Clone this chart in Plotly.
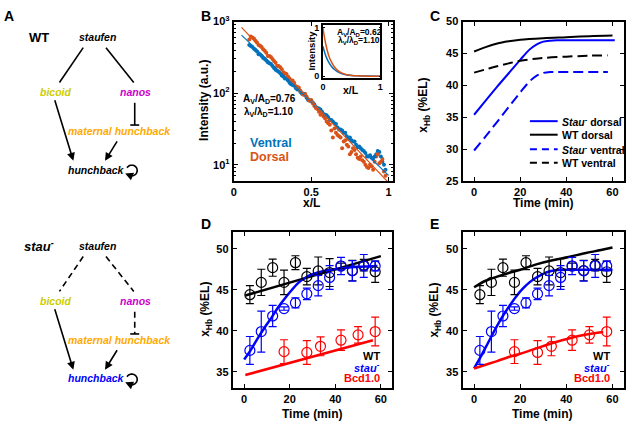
import math
import plotly.graph_objects as go

W, H = 629, 427
FONT = "Liberation Sans"

# ---------------- Panel B data ----------------
pos_x = [0.10, 0.12, 0.14, 0.16, 0.18, 0.20, 0.22, 0.24, 0.26, 0.28, 0.30, 0.32, 0.34, 0.36, 0.38,
         0.40, 0.42, 0.44, 0.46, 0.48, 0.50, 0.52, 0.54, 0.56, 0.58, 0.60, 0.62, 0.64, 0.66, 0.68,
         0.70, 0.72, 0.74, 0.76, 0.78, 0.80, 0.82, 0.84, 0.86, 0.88, 0.90, 0.92, 0.94, 0.96, 0.98]
ventral_int = [470, 440, 400, 350, 330, 300, 270, 255, 225, 205, 190, 170, 160, 140, 130,
               118, 112, 98, 94, 80, 78, 70, 62, 59, 51, 49, 42, 40, 37, 31,
               30, 28, 23, 22, 21, 17.5, 17, 15.5, 13, 13.5, 12, 14, 15, 11, 8.5]
dorsal_int = [560, 600, 540, 470, 440, 390, 330, 320, 280, 240, 230, 195, 185, 160, 150,
              125, 120, 100, 98, 82, 80, 66, 60, 50, 47, 40, 36, 24, 28, 25,
              17, 22, 18, 15, 16, 12.5, 13, 11, 9.3, 10, 8.5, 13, 10.5, 12, 7]
pos_x_b = [0.11, 0.13, 0.15, 0.17, 0.19, 0.21, 0.23, 0.25, 0.27, 0.29, 0.31, 0.33, 0.35, 0.37, 0.39,
           0.41, 0.43, 0.45, 0.47, 0.49, 0.51, 0.53, 0.55, 0.57, 0.59, 0.61, 0.63, 0.65, 0.67, 0.69,
           0.71, 0.73, 0.75, 0.77, 0.79, 0.81, 0.83, 0.85, 0.87, 0.89, 0.91, 0.93, 0.95, 0.97]
ventral_int_b = [455, 415, 380, 345, 310, 285, 262, 240, 212, 198, 176, 160, 150, 133, 127,
                 112, 104, 97, 86, 79, 74, 64, 61, 55, 50, 46, 42, 38, 33, 31,
                 28, 25, 24, 21, 19, 18, 16, 14.5, 13, 12.5, 13, 15.5, 13, 10]
dorsal_int_b = [620, 580, 510, 460, 410, 365, 330, 300, 265, 240, 215, 190, 170, 150, 140,
                122, 108, 95, 90, 78, 72, 62, 55, 52, 44, 38, 30, 32, 26, 24,
                21, 19, 14, 17, 14, 12, 11.5, 10, 9, 9.5, 11, 14, 11, 8]
fit_x = [0.05, 1.0]
ventral_fit = [645, 7.1]
dorsal_fit = [830, 5.6]

inset_x = [0, 0.05, 0.1, 0.15, 0.2, 0.25, 0.3, 0.4, 0.5, 0.6, 0.8, 1.0]
inset_dorsal = [1.0, 0.66, 0.43, 0.29, 0.19, 0.125, 0.082, 0.036, 0.016, 0.007, 0.0013, 0.0002]
inset_ventral = [0.62, 0.42, 0.29, 0.20, 0.137, 0.094, 0.064, 0.03, 0.014, 0.0066, 0.0014, 0.0003]

# ---------------- Panel C data ----------------
c_t_stau_dorsal = [0, 5, 10, 15, 20, 24, 27, 30, 33, 36, 45, 61]
c_stau_dorsal = [35.4, 37.6, 39.8, 41.9, 44.0, 45.6, 46.4, 46.85, 47.0, 47.05, 47.05, 47.05]
c_t_wt_dorsal = [0, 5, 10, 15, 20, 30, 40, 50, 60]
c_wt_dorsal = [45.3, 46.0, 46.55, 46.9, 47.15, 47.4, 47.55, 47.7, 47.8]
c_t_stau_ventral = [0, 5, 10, 15, 20, 24, 27, 30, 33, 36, 58]
c_stau_ventral = [29.8, 32.0, 34.3, 36.6, 38.9, 40.6, 41.5, 41.95, 42.1, 42.1, 42.1]
c_t_wt_ventral = [0, 5, 10, 15, 20, 25, 30, 40, 50, 58]
c_wt_ventral = [42.0, 42.5, 43.0, 43.45, 43.85, 44.1, 44.3, 44.5, 44.65, 44.7]

# ---------------- Panels D/E measured data ----------------
t_obs = [2.5, 7.5, 12.5, 17.5, 22.5, 27.5, 32.5, 37.5, 42.5, 47.5, 52.5, 57.5]
wt_mean = [44.4, 45.9, 47.7, 45.9, 48.3, 46.6, 47.3, 47.1, 47.9, 47.35, 48.0, 47.2]
wt_err = [1.1, 1.6, 1.05, 1.5, 0.85, 1.0, 1.7, 1.7, 0.35, 1.25, 0.7, 1.3]
stau_mean = [37.6, 39.9, 41.8, 42.7, 43.4, 44.5, 45.5, 46.5, 47.9, 47.3, 47.9, 47.9]
stau_err = [1.7, 2.5, 1.3, 0.2, 0.6, 0.7, 1.25, 1.45, 1.05, 1.25, 1.4, 0.6]
bcd_t = [17.5, 27.5, 33.5, 42.5, 50, 57.5]
bcd_mean = [37.45, 37.35, 38.1, 38.85, 39.5, 39.9]
bcd_err = [1.45, 1.45, 1.15, 1.25, 1.0, 1.75]

# Panel D model curves
d_t_wt = [0.5, 60]
d_wt_fit = [44.3, 49.1]
d_t_stau = [0, 3, 6, 9, 12, 15, 18, 21, 24, 27, 30, 35, 40, 45, 50, 55, 58.5]
d_stau_fit = [36.5, 37.7, 39.1, 40.4, 41.6, 42.9, 44.0, 45.0, 45.9, 46.5, 46.9, 47.3, 47.5, 47.7, 47.8, 47.85, 47.9]
d_t_bcd = [0.5, 56.5]
d_bcd_fit = [34.6, 38.85]

# Panel E model curves
e_t_wt = [0, 5, 10, 15, 20, 27, 34, 41, 48, 55, 60]
e_wt_fit = [45.3, 46.1, 46.6, 47.05, 47.45, 48.1, 48.6, 49.0, 49.45, 49.85, 50.15]
e_t_stau = [0, 3, 6, 9, 12, 15, 18, 21, 24, 27, 30, 33, 36, 40, 50, 60]
e_stau_fit = [35.4, 36.9, 38.5, 40.1, 41.6, 42.9, 44.1, 45.1, 45.9, 46.5, 46.95, 47.25, 47.4, 47.45, 47.45, 47.45]
e_t_bcd = [0, 5, 10, 15, 20, 27, 34, 41, 48, 56]
e_bcd_fit = [35.4, 35.85, 36.3, 36.8, 37.2, 37.85, 38.5, 39.05, 39.5, 39.85]

# colours
M_BLUE, M_ORANGE = "#0072BD", "#D95319"
BLUE, RED, BLACK = "#0000FF", "#FF0000", "#000000"
YEL, MAG, ORG = "#CCCC00", "#CC00CC", "#FFAA00"


def px(x):
    return x / W


def py(y):
    return 1 - y / H


fig = go.Figure()

# ---- B ----
for xs, vs, ds in [(pos_x, ventral_int, dorsal_int), (pos_x_b, ventral_int_b, dorsal_int_b)]:
    fig.add_trace(go.Scatter(x=xs, y=vs, mode="markers", marker=dict(color=M_BLUE, size=4),
                             xaxis="x", yaxis="y", showlegend=False))
    fig.add_trace(go.Scatter(x=xs, y=ds, mode="markers", marker=dict(color=M_ORANGE, size=4),
                             xaxis="x", yaxis="y", showlegend=False))
fig.add_trace(go.Scatter(x=fit_x, y=ventral_fit, mode="lines", line=dict(color=M_BLUE, width=1.2),
                         xaxis="x", yaxis="y", showlegend=False))
fig.add_trace(go.Scatter(x=fit_x, y=dorsal_fit, mode="lines", line=dict(color=M_ORANGE, width=1.2),
                         xaxis="x", yaxis="y", showlegend=False))
# inset
fig.add_trace(go.Scatter(x=inset_x, y=inset_ventral, mode="lines", line=dict(color=M_BLUE, width=1.5, shape="spline"),
                         xaxis="x2", yaxis="y2", showlegend=False))
fig.add_trace(go.Scatter(x=inset_x, y=inset_dorsal, mode="lines", line=dict(color=M_ORANGE, width=1.5, shape="spline"),
                         xaxis="x2", yaxis="y2", showlegend=False))

# ---- C ----
fig.add_trace(go.Scatter(x=c_t_stau_dorsal, y=c_stau_dorsal, mode="lines", line=dict(color=BLUE, width=2, shape="spline"),
                         xaxis="x3", yaxis="y3", showlegend=False))
fig.add_trace(go.Scatter(x=c_t_wt_dorsal, y=c_wt_dorsal, mode="lines", line=dict(color=BLACK, width=2, shape="spline"),
                         xaxis="x3", yaxis="y3", showlegend=False))
fig.add_trace(go.Scatter(x=c_t_stau_ventral, y=c_stau_ventral, mode="lines",
                         line=dict(color=BLUE, width=2, dash="10px,5px", shape="spline"),
                         xaxis="x3", yaxis="y3", showlegend=False))
fig.add_trace(go.Scatter(x=c_t_wt_ventral, y=c_wt_ventral, mode="lines",
                         line=dict(color=BLACK, width=2, dash="10px,5px", shape="spline"),
                         xaxis="x3", yaxis="y3", showlegend=False))


def add_obs(xa, ya):
    for t, m, e, c in [(t_obs, wt_mean, wt_err, BLACK), (t_obs, stau_mean, stau_err, BLUE),
                       (bcd_t, bcd_mean, bcd_err, RED)]:
        fig.add_trace(go.Scatter(x=t, y=m, mode="markers",
                                 marker=dict(symbol="circle-open", size=10, color=c, line=dict(width=1.2, color=c)),
                                 error_y=dict(type="data", array=e, color=c, thickness=1.2, width=4),
                                 xaxis=xa, yaxis=ya, showlegend=False))


# ---- D ----
fig.add_trace(go.Scatter(x=d_t_wt, y=d_wt_fit, mode="lines", line=dict(color=BLACK, width=2.5),
                         xaxis="x4", yaxis="y4", showlegend=False))
fig.add_trace(go.Scatter(x=d_t_stau, y=d_stau_fit, mode="lines", line=dict(color=BLUE, width=2.5, shape="spline"),
                         xaxis="x4", yaxis="y4", showlegend=False))
fig.add_trace(go.Scatter(x=d_t_bcd, y=d_bcd_fit, mode="lines", line=dict(color=RED, width=2.5),
                         xaxis="x4", yaxis="y4", showlegend=False))
add_obs("x4", "y4")

# ---- E ----
fig.add_trace(go.Scatter(x=e_t_wt, y=e_wt_fit, mode="lines", line=dict(color=BLACK, width=2.5, shape="spline"),
                         xaxis="x5", yaxis="y5", showlegend=False))
fig.add_trace(go.Scatter(x=e_t_stau, y=e_stau_fit, mode="lines", line=dict(color=BLUE, width=2.5, shape="spline"),
                         xaxis="x5", yaxis="y5", showlegend=False))
fig.add_trace(go.Scatter(x=e_t_bcd, y=e_bcd_fit, mode="lines", line=dict(color=RED, width=2.5, shape="spline"),
                         xaxis="x5", yaxis="y5", showlegend=False))
add_obs("x5", "y5")


def tf(size=11):
    return dict(family=FONT, size=size, color="black", weight="bold")


def ax(domain, rng, anchor, lw=2, size=11, **kw):
    d = dict(domain=domain, range=rng, anchor=anchor, showline=True, linewidth=lw, linecolor="black",
             mirror="allticks", ticks="inside", ticklen=4, tickwidth=1, tickcolor="black",
             showgrid=False, zeroline=False, tickfont=tf(size), tickmode="array")
    d.update(kw)
    return d


minor_log = [6, 7, 8, 9, 20, 30, 40, 50, 60, 70, 80, 90, 200, 300, 400, 500, 600, 700, 800, 900]

layout = dict(
    width=W, height=H, margin=dict(l=0, r=0, t=0, b=0),
    paper_bgcolor="white", plot_bgcolor="rgba(0,0,0,0)", showlegend=False,
    font=dict(family=FONT, size=11, color="black", weight="bold"),
    xaxis=ax([px(233), px(394)], [0, 1.03], "y", tickvals=[0, 0.5, 1], ticktext=["0", "0.5", "1"]),
    yaxis=ax([py(179), py(14)], [0.77, 3], "x", type="log", tickvals=[10, 100, 1000],
             ticktext=["10<sup>1</sup>", "10<sup>2</sup>", "10<sup>3</sup>"],
             minor=dict(ticks="inside", ticklen=2, tickcolor="black", tickvals=minor_log)),
    xaxis2=ax([px(323), px(381)], [0, 1.0], "y2", lw=1.5, size=9, ticklen=2, tickvals=[0, 1]),
    yaxis2=ax([py(72), py(18)], [-0.03, 1.05], "x2", lw=1.5, size=9, ticklen=2, tickvals=[0, 1]),
    xaxis3=ax([px(464), px(627)], [-5, 65], "y3", tickvals=[0, 20, 40, 60]),
    yaxis3=ax([py(179), py(14)], [25, 50], "x3", tickvals=[25, 30, 35, 40, 45, 50]),
    xaxis4=ax([px(232), px(393)], [-5, 65], "y4", tickvals=[0, 20, 40, 60]),
    yaxis4=ax([py(393), py(232)], [33, 52], "x4", tickvals=[35, 40, 45, 50]),
    xaxis5=ax([px(464), px(627)], [-5, 65], "y5", tickvals=[0, 20, 40, 60]),
    yaxis5=ax([py(393), py(232)], [33, 52], "x5", tickvals=[35, 40, 45, 50]),
)
fig.update_layout(**layout)

ann = []
shapes = []


def txt(x, y, s, size=11, color="black", xanchor="center", italic=False, angle=0, weight="bold"):
    ann.append(dict(x=px(x), y=py(y), xref="paper", yref="paper", text=s, showarrow=False,
                    xanchor=xanchor, yanchor="middle", textangle=angle,
                    font=dict(family=FONT, size=size, color=color, weight=weight,
                              style="italic" if italic else "normal")))


def line(x0, y0, x1, y1, dash="solid", width=1.6, color="black"):
    shapes.append(dict(type="line", xref="paper", yref="paper", x0=px(x0), y0=py(y0), x1=px(x1), y1=py(y1),
                       line=dict(color=color, width=width, dash=dash)))


def arrow(tail, tip, width=1.6):
    ann.append(dict(x=px(tip[0]), y=py(tip[1]), xref="paper", yref="paper", text="",
                    ax=tail[0] - tip[0], ay=tail[1] - tip[1], axref="pixel", ayref="pixel",
                    showarrow=True, arrowhead=2, arrowsize=1, arrowwidth=width, arrowcolor="black"))


# panel letters
for lab, x, y in [("A", 6, 8), ("B", 205, 8), ("C", 436, 8), ("D", 205, 223), ("E", 436, 223)]:
    txt(x, y, lab, size=14)


# panel A diagrams
def diagram(dy, title, dashed, hb_color):
    dsh = "6px,4px" if dashed else "solid"
    txt(36, 30 + dy, title, size=13, italic=dashed)
    txt(95, 30 + dy, "staufen", size=10.5, italic=True)
    txt(54, 87 + dy, "bicoid", size=10.5, italic=True, color=YEL)
    txt(134, 87 + dy, "nanos", size=10.5, italic=True, color=MAG)
    txt(118, 127 + dy, "maternal hunchback", size=10.5, italic=True, color=ORG)
    txt(94, 167 + dy, "hunchback", size=10.5, italic=True, color=hb_color)
    line(81, 41 + dy, 57, 77 + dy, dash=dsh)
    line(104, 41 + dy, 132, 77 + dy, dash=dsh)
    line(133, 98 + dy, 133, 121 + dy, dash=dsh)
    line(128.5, 121 + dy, 137.5, 121 + dy)
    arrow((52, 96 + dy), (71, 158 + dy))
    arrow((116, 137 + dy), (103, 158 + dy))
    # self loop
    cx, cy, r = 130, 168 + dy, 5.5
    pts = []
    for k in range(0, 31):
        th = math.radians(150 - k * (150 + 125) / 30)
        pts.append((cx + r * math.cos(th), cy - r * math.sin(th)))
    path = "M " + " L ".join(f"{px(a):.5f},{py(b):.5f}" for a, b in pts)
    shapes.append(dict(type="path", xref="paper", yref="paper", path=path, line=dict(color="black", width=1.6)))
    ea, eb = pts[-1]
    ann.append(dict(x=px(ea - 3.5), y=py(eb - 1.5), xref="paper", yref="paper", text="",
                    ax=3.5, ay=1.5, axref="pixel", ayref="pixel", showarrow=True,
                    arrowhead=2, arrowsize=1, arrowwidth=1.6, arrowcolor="black"))


diagram(0, "WT", False, "black")
diagram(216, "stau<sup>-</sup>", True, BLUE)

# panel B texts
txt(203, 96, "Intensity (a.u.)", size=12, angle=-90)
txt(311, 202, "x/L", size=12)
txt(240, 94, "A<sub>V</sub>/A<sub>D</sub>=0.76", size=10, xanchor="left")
txt(241, 108, "λ<sub>V</sub>/λ<sub>D</sub>=1.10", size=10, xanchor="left")
txt(247, 140, "Ventral", size=12.5, color=M_BLUE, xanchor="left")
txt(247, 154, "Dorsal", size=12.5, color=M_ORANGE, xanchor="left")
# inset texts
txt(312, 44, "Intensity", size=9.5, angle=-90)
txt(351, 85, "x/L", size=10.5)
txt(335, 25, "A<sub>V</sub>/A<sub>D</sub>=0.62", size=8.5, xanchor="left")
txt(336, 34, "λ<sub>V</sub>/λ<sub>D</sub>=1.10", size=8.5, xanchor="left")

# panel C texts
txt(425, 100, "x<sub>Hb</sub> (%EL)", size=12, angle=-90)
txt(545, 202, "Time (min)", size=12)
leg = [("<i>Stau</i><sup>-</sup> dorsal", BLUE, "solid", 117),
       ("WT dorsal", BLACK, "solid", 131),
       ("<i>Stau</i><sup>-</sup> ventral", BLUE, "7px,5px", 146),
       ("WT ventral", BLACK, "7px,5px", 160)]
for s, c, d, y in leg:
    line(532, y, 560, y, dash=d, width=2, color=c)
    txt(562, y, s, size=10.5, xanchor="left")

# panel D/E texts
for xo, ylx in [(0, 205), (232, 436)]:
    txt(ylx, 312, "x<sub>Hb</sub> (%EL)", size=12, angle=-90)
    txt(312 + xo, 420, "Time (min)", size=12)
    txt(383 + xo, 360, "WT", size=11, xanchor="right")
    txt(383 + xo, 371.5, "stau<sup>-</sup>", size=11, color=BLUE, xanchor="right", italic=True)
    txt(383 + xo, 383, "Bcd1.0", size=11, color=RED, xanchor="right")

fig.update_layout(annotations=ann, shapes=shapes)
fig.write_html("out.html", config={"displayModeBar": False},
               post_script="document.body.style.margin='0';document.body.style.overflow='hidden';")
